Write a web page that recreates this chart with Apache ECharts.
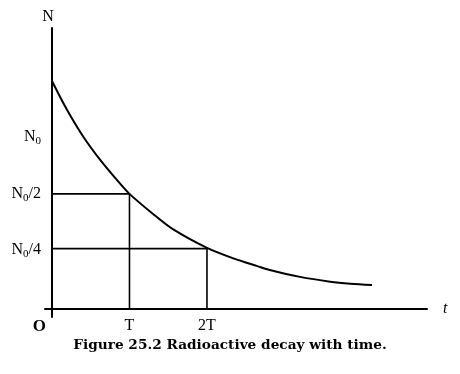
<!DOCTYPE html>
<html>
<head>
<meta charset="utf-8">
<script src="https://cdn.jsdelivr.net/npm/echarts@6/dist/echarts.min.js"></script>
<style>html,body{margin:0;padding:0;background:#fff}#c{width:460px;height:374px}</style>
</head>
<body>
<div id="c"></div>
<script>
// time in units of half-life T, N in units of N0
var curveT = [0, 0.19, 0.40, 0.62, 0.84, 1.00, 1.30, 1.56, 2.00, 2.34, 2.65, 2.81, 3.20, 3.59, 3.85, 4.13];
var curveN = [1.00, 0.876, 0.758, 0.655, 0.565, 0.505, 0.418, 0.350, 0.268, 0.222, 0.188, 0.171, 0.141, 0.120, 0.111, 0.105];
var halfTimes = [1, 2];
var halfLevels = [0.505, 0.265];
var yTickValues = [0.754, 0.504, 0.26];
var yTickLabels = ['N0', 'N0/2', 'N0/4'];
var xTickValues = [0, 1, 2];
var xTickLabels = ['O', 'T', '2T'];
var captionBold = 'Figure 25.2';
var captionText = ' Radioactive decay with time.';

var serif = 'Liberation Serif';
function subLabel(s) {
  var rest = s.slice(2);
  return '{n|N}{s|0}' + (rest ? '{n|' + rest + '}' : '');
}
var series = [{
  type: 'line',
  data: curveT.map(function (t, i) { return [t, curveN[i]]; }),
  smooth: 0.3,
  symbol: 'none',
  lineStyle: { color: '#000', width: 2 },
  z: 3
}];
halfTimes.forEach(function (t, i) {
  series.push({
    type: 'line',
    data: [[0, halfLevels[i]], [t, halfLevels[i]], [t, 0]],
    symbol: 'none',
    lineStyle: { color: '#000', width: 1.6 },
    z: 2
  });
});
var chart = echarts.init(document.getElementById('c'));
chart.setOption({
  animation: false,
  backgroundColor: '#fff',
  title: {
    text: '{b|' + captionBold + '}{r|' + captionText + '}',
    left: 'center', top: 333,
    textStyle: {
      rich: {
        b: { fontFamily: 'DejaVu Serif', fontWeight: 'bold', fontSize: 13.7, color: '#000' },
        r: { fontFamily: 'DejaVu Serif', fontSize: 13.7, color: '#000' }
      }
    }
  },
  grid: { left: 45, right: 33, top: 28, bottom: 57, containLabel: false },
  xAxis: {
    type: 'value', min: -0.09, max: 4.839,
    name: 't', nameLocation: 'end', nameGap: 16,
    nameTextStyle: { fontFamily: serif, fontStyle: 'italic', fontSize: 16, color: '#000', verticalAlign: 'middle', padding: [6, 0, 0, 0] },
    axisLine: { onZero: true, lineStyle: { color: '#000', width: 2 } },
    axisTick: { show: false },
    splitLine: { show: false },
    axisLabel: {
      customValues: xTickValues,
      margin: 1,
      fontFamily: serif, fontSize: 16, color: '#000',
      formatter: function (v) {
        var i = xTickValues.indexOf(v);
        if (i === 0) return '{o|' + xTickLabels[0] + '}';
        return i >= 0 ? xTickLabels[i] : '';
      },
      rich: { o: { fontFamily: serif, fontSize: 17, fontWeight: 'bold', color: '#000', padding: [0, 25, 0, 0] } }
    }
  },
  yAxis: {
    type: 'value', min: -0.035, max: 1.2325,
    name: 'N', nameLocation: 'end', nameGap: 3,
    nameTextStyle: { fontFamily: serif, fontSize: 16, color: '#000', padding: [0, 8, 0, 0] },
    axisLine: { onZero: true, lineStyle: { color: '#000', width: 2 } },
    axisTick: { show: false },
    splitLine: { show: false },
    axisLabel: {
      customValues: yTickValues,
      margin: 4,
      formatter: function (v) {
        var i = yTickValues.indexOf(v);
        return i >= 0 ? subLabel(yTickLabels[i]) : '';
      },
      rich: {
        n: { fontFamily: serif, fontSize: 16, color: '#000', verticalAlign: 'middle' },
        s: { fontFamily: serif, fontSize: 11, color: '#000', verticalAlign: 'middle', padding: [8, 0, 0, 0] }
      }
    }
  },
  series: series
});
</script>
</body>
</html>
